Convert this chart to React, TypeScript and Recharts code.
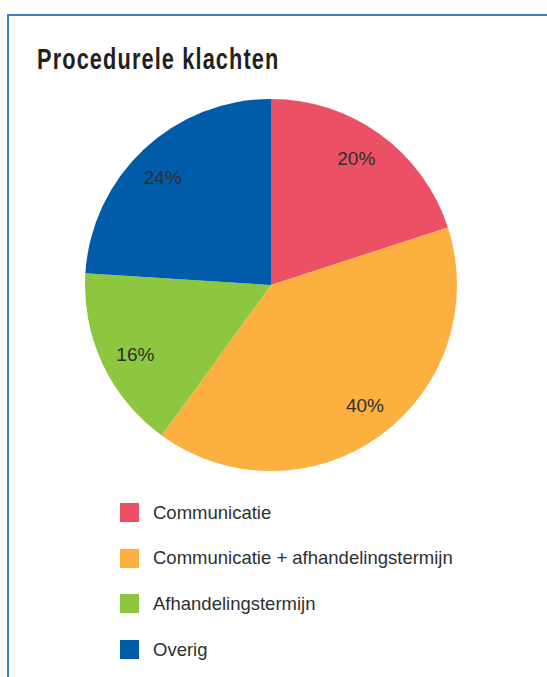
import { Pie, PieChart, Cell } from "recharts";

const categories = ["Communicatie", "Communicatie + afhandelingstermijn", "Afhandelingstermijn", "Overig"];
const shares = [20, 40, 16, 24];
const colors = ["#ec5064", "#fcb040", "#8dc63f", "#005ba8"];

const data = categories.map((name, i) => ({ name, value: shares[i] }));

const RAD = Math.PI / 180;

function renderLabel(props: any) {
  const { cx, cy, midAngle, outerRadius, value } = props;
  const r = outerRadius * 0.82;
  const a = midAngle + 2;
  const x = cx + r * Math.cos(-a * RAD);
  const y = cy + r * Math.sin(-a * RAD);
  return (
    <text
      x={x}
      y={y}
      fill="#2f2f2f"
      fontSize={19}
      fontFamily="Liberation Sans, Arial, sans-serif"
      textAnchor="middle"
      dominantBaseline="central"
    >
      {`${value}%`}
    </text>
  );
}

export default function App() {
  return (
    <div style={{ position: "absolute", left: 0, top: 0, width: 547, height: 677, overflow: "hidden", background: "#fff" }}>
      <div
        style={{
          position: "absolute",
          left: 7,
          top: 14,
          width: 600,
          height: 700,
          borderTop: "2px solid #3a80c2",
          borderLeft: "2px solid #3a80c2",
        }}
      />
      <div
        style={{
          position: "absolute",
          left: 37,
          top: 43,
          fontFamily: "Liberation Sans, Arial, sans-serif",
          fontWeight: "bold",
          fontSize: 29,
          letterSpacing: 1.5,
          color: "#231f20",
          whiteSpace: "nowrap",
          transform: "scaleX(0.75)",
          transformOrigin: "left top",
        }}
      >
        Procedurele klachten
      </div>
      <div style={{ position: "absolute", left: 0, top: 0 }}>
        <PieChart width={547} height={490} margin={{ top: 0, right: 0, bottom: 0, left: 0 }}>
          <Pie
            data={data}
            dataKey="value"
            nameKey="name"
            cx={271}
            cy={285}
            outerRadius={186}
            startAngle={90}
            endAngle={-270}
            stroke="none"
            label={renderLabel}
            labelLine={false}
            isAnimationActive={false}
          >
            {data.map((d, i) => (
              <Cell key={d.name} fill={colors[i]} />
            ))}
          </Pie>
        </PieChart>
      </div>
      <div style={{ position: "absolute", left: 120, top: 503 }}>
        {data.map((d, i) => (
          <div key={d.name} style={{ display: "flex", alignItems: "center", height: 19, marginBottom: 26.7 }}>
            <div style={{ width: 19, height: 19, background: colors[i], marginRight: 14 }} />
            <span style={{ fontFamily: "Liberation Sans, Arial, sans-serif", fontSize: 18.5, color: "#2f2f2f", whiteSpace: "nowrap" }}>
              {d.name}
            </span>
          </div>
        ))}
      </div>
    </div>
  );
}
